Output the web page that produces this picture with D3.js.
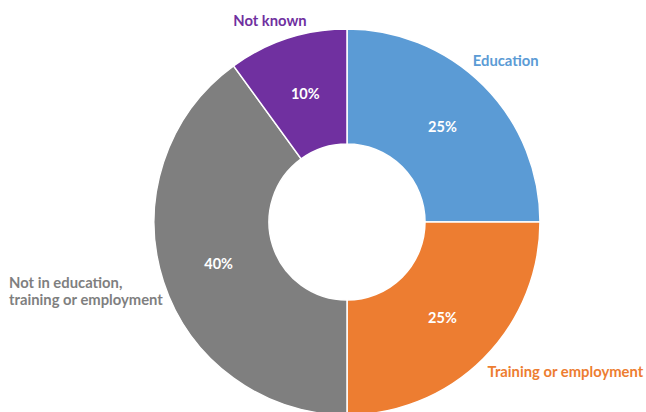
<!DOCTYPE html>
<html>
<head>
<meta charset="utf-8">
<script src="https://cdn.jsdelivr.net/npm/d3@7"></script>
<style>
  html, body { margin: 0; padding: 0; background: #fff; }
  svg { display: block; font-family: Lato, "Open Sans", sans-serif; }
</style>
</head>
<body>
<svg id="chart" width="646" height="412"></svg>
<script>
// ---- data ----
const categories = ["Education", "Training or employment", "Not in education, training or employment", "Not known"];
const labelLines = [["Education"], ["Training or employment"], ["Not in education,", "training or employment"], ["Not known"]];
const values = [25, 25, 40, 10];
const colors = ["#5B9BD5", "#ED7D31", "#7F7F7F", "#7030A0"];

// ---- layout (style only) ----
const W = 646, H = 412;
const cx = 347, cy = 222;
const outerR = 193, innerR = 78;
const pctR = 135;
const catLabelAngle = [44.6, 124.5, 258.4, 339]; // degrees from top, clockwise
const catLabelR = [226, 265, 345, 215];
const catAnchor = ["middle", "middle", "start", "middle"];

const svg = d3.select("#chart");
const g = svg.append("g").attr("transform", `translate(${cx},${cy})`);

const pie = d3.pie().sort(null).value(d => d)(values);
const arc = d3.arc().innerRadius(innerR).outerRadius(outerR);
const pctArc = d3.arc().innerRadius(pctR).outerRadius(pctR);

g.selectAll("path.slice")
  .data(pie)
  .join("path")
  .attr("class", "slice")
  .attr("d", arc)
  .attr("fill", (d, i) => colors[i])
  .attr("stroke", "#fff")
  .attr("stroke-width", 1.5);

const total = d3.sum(values);
const fmt = d3.format(".0%");
const toRad = a => a * Math.PI / 180;

g.selectAll("text.pct")
  .data(pie)
  .join("text")
  .attr("class", "pct")
  .attr("transform", d => `translate(${pctArc.centroid(d)})`)
  .attr("dy", "0.35em")
  .attr("text-anchor", "middle")
  .attr("fill", "#fff")
  .attr("font-weight", 700)
  .attr("font-size", "14.5px")
  .text(d => fmt(d.value / total));

const lab = g.selectAll("text.cat")
  .data(pie)
  .join("text")
  .attr("class", "cat")
  .attr("text-anchor", (d, i) => catAnchor[i])
  .attr("fill", (d, i) => colors[i])
  .attr("font-weight", 700)
  .attr("font-size", "14.8px")
  .attr("transform", (d, i) => {
    const a = toRad(catLabelAngle[i]);
    return `translate(${catLabelR[i] * Math.sin(a)},${-catLabelR[i] * Math.cos(a)})`;
  });

lab.each(function (d, i) {
  const lines = labelLines[i];
  const t = d3.select(this);
  const lh = 17;
  const y0 = -((lines.length - 1) * lh) / 2;
  lines.forEach((ln, k) => {
    t.append("tspan").attr("x", 0).attr("y", y0 + k * lh).attr("dy", "0.35em").text(ln);
  });
});
</script>
</body>
</html>
